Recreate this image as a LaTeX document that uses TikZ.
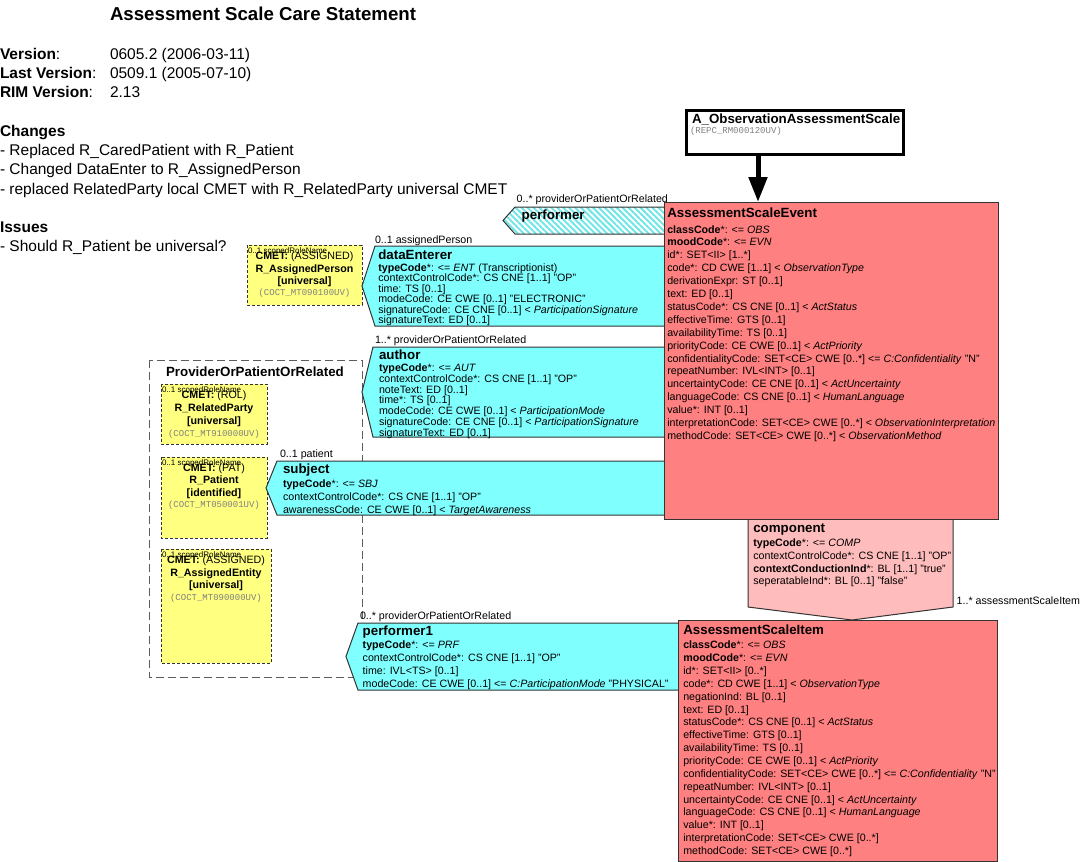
\documentclass[tikz,border=0pt]{standalone}
\usepackage{fontspec}
\setmainfont{Liberation Sans}
\setmonofont{Liberation Mono}
\usetikzlibrary{arrows.meta,patterns.meta}
\definecolor{evt}{HTML}{FF8080}
\definecolor{cyn}{HTML}{80FFFF}
\definecolor{hatch}{HTML}{70E6E6}
\definecolor{ylw}{HTML}{FFFF80}
\definecolor{cmp}{HTML}{FFBCBC}
\definecolor{brd}{HTML}{333333}
\begin{document}
\begin{tikzpicture}[x=1pt,y=-1pt,
  every node/.style={inner sep=0pt, outer sep=0pt},
  hd/.style={anchor=base west, font=\fontsize{15.5}{18}\selectfont},
  bigttl/.style={anchor=base west, font=\fontsize{18.67}{22}\selectfont\bfseries},
  ttl/.style={anchor=base west, font=\fontsize{13.33}{16}\selectfont\bfseries},
  ln/.style={anchor=base west, font=\fontsize{10.67}{12}\selectfont},
  cmettxt/.style={anchor=base, font=\fontsize{10.67}{12}\selectfont},
  monotxt/.style={anchor=base, font=\fontsize{9}{10}\ttfamily, text=gray},
  srn/.style={anchor=base west, font=\fontsize{8}{9}\selectfont},
  clsbox/.style={draw=brd, fill=evt, line width=1pt, anchor=north west},
  part/.style={draw=brd, fill=cyn, line width=1pt},
  cmetbox/.style={draw=brd, fill=ylw, dash pattern=on 3pt off 2pt, line width=1pt},
  grp/.style={draw=brd!80, dash pattern=on 8pt off 4pt, line width=1pt},
]
\useasboundingbox (0,0) rectangle (1080,862);
\fill[white] (0,0) rectangle (1080,862);

% header
\node[bigttl] (title) at (110,20) {Assessment Scale Care Statement};
\node[hd] (vk) at (0,59.3) {\textbf{Version}:};
\node[hd] (vv) at (110,59.3) {0605.2 (2006-03-11)};
\node[hd] (lvk) at (0,78.3) {\textbf{Last Version}:};
\node[hd] (lvv) at (110,78.3) {0509.1 (2005-07-10)};
\node[hd] (rk) at (0,97.3) {\textbf{RIM Version}:};
\node[hd] (rv) at (110,97.3) {2.13};
\node[hd] (chg) at (0,136) {\textbf{Changes}};
\node[hd] (c1) at (0,155.5) {- Replaced R\_CaredPatient with R\_Patient};
\node[hd] (c2) at (0,174.8) {- Changed DataEnter to R\_AssignedPerson};
\node[hd] (c3) at (0,194.1) {- replaced RelatedParty local CMET with R\_RelatedParty universal CMET};
\node[hd] (iss) at (0,232.3) {\textbf{Issues}};
\node[hd] (i1) at (0,251) {- Should R\_Patient be universal?};

% group
\draw[grp] (149,360) rectangle (362,677);
\node[ttl, anchor=base] (grpt) at (255,376.5) {ProviderOrPatientOrRelated};

% CMET boxes
\draw[cmetbox] (247,245) rectangle (362,305);
\node[srn] (ap0) at (248,253) {0..1 scopedRoleName};
\node[cmettxt] (ap1) at (304.5,259.5) {\textbf{CMET:} (ASSIGNED)};
\node[cmettxt] (ap2) at (304.5,272.8) {\textbf{R\_AssignedPerson}};
\node[cmettxt] (ap3) at (304.5,284.8) {\textbf{[universal]}};
\node[monotxt] (ap4) at (304.5,295.3) {(COCT\_MT090100UV)};

\draw[cmetbox] (161,384) rectangle (267,444);
\node[srn] (rp0) at (162,392) {0..1 scopedRoleName};
\node[cmettxt] (rp1) at (214,398.8) {\textbf{CMET:} (ROL)};
\node[cmettxt] (rp2) at (214,411.5) {\textbf{R\_RelatedParty}};
\node[cmettxt] (rp3) at (214,424.5) {\textbf{[universal]}};
\node[monotxt] (rp4) at (214,436) {(COCT\_MT910000UV)};

\draw[cmetbox] (161,457) rectangle (267,538);
\node[srn] (pt0) at (162,465) {0..1 scopedRoleName};
\node[cmettxt] (pt1) at (214,471.5) {\textbf{CMET:} (PAT)};
\node[cmettxt] (pt2) at (214,483.8) {\textbf{R\_Patient}};
\node[cmettxt] (pt3) at (214,496.5) {\textbf{[identified]}};
\node[monotxt] (pt4) at (214,507.6) {(COCT\_MT050001UV)};

\draw[cmetbox] (161,549) rectangle (271,663);
\node[srn] (ae0) at (162,557) {0..1 scopedRoleName};
\node[cmettxt] (ae1) at (216,563.8) {\textbf{CMET:} (ASSIGNED)};
\node[cmettxt] (ae2) at (216,576.5) {\textbf{R\_AssignedEntity}};
\node[cmettxt] (ae3) at (216,588.8) {\textbf{[universal]}};
\node[monotxt] (ae4) at (216,600.3) {(COCT\_MT090000UV)};

% participations
\draw[brd, line width=1pt, preaction={fill=white},
  pattern={Lines[angle=-45,distance=4.2pt,line width=2pt]}, pattern color=hatch]
  (664,207) -- (515,207) -- (503,220.5) -- (515,234) -- (664,234);
\node[ln] (pfl) at (516.7,202.1) {0..* providerOrPatientOrRelated};
\node[ttl] (pft) at (521.7,219.1) {performer};

\draw[part] (664,246) -- (375,246) -- (362,286) -- (375,326) -- (664,326);
\node[ln] (del) at (375,243.1) {0..1 assignedPerson};
\node[ttl] (det) at (378.3,259) {dataEnterer};
\foreach \lne [count=\i from 0] in {
 {\textbf{typeCode}*: <= \textit{ENT} (Transcriptionist)},
 {contextControlCode*: CS CNE [1..1] "OP"},
 {time: TS [0..1]},
 {modeCode: CE CWE [0..1] "ELECTRONIC"},
 {signatureCode: CE CNE [0..1] < \textit{ParticipationSignature}},
 {signatureText: ED [0..1]}}
 {\node[ln] (de\i) at (378.3, 271.1+\i*10.55) {\lne};}

\draw[part] (664,347) -- (373,347) -- (362,392) -- (373,437) -- (664,437);
\node[ln] (aul) at (375,343.8) {1..* providerOrPatientOrRelated};
\node[ttl] (aut) at (379,359.8) {author};
\foreach \lne [count=\i from 0] in {
 {\textbf{typeCode}*: <= \textit{AUT}},
 {contextControlCode*: CS CNE [1..1] "OP"},
 {noteText: ED [0..1]},
 {time*: TS [0..1]},
 {modeCode: CE CWE [0..1] < \textit{ParticipationMode}},
 {signatureCode: CE CNE [0..1] < \textit{ParticipationSignature}},
 {signatureText: ED [0..1]}}
 {\node[ln] (au\i) at (379, 371.5+\i*10.77) {\lne};}

\draw[part] (664,461) -- (277,461) -- (266,488) -- (277,515) -- (664,515);
\node[ln] (sbl) at (280,457.8) {0..1 patient};
\node[ttl] (sbt) at (283,473.8) {subject};
\foreach \lne [count=\i from 0] in {
 {\textbf{typeCode}*: <= \textit{SBJ}},
 {contextControlCode*: CS CNE [1..1] "OP"},
 {awarenessCode: CE CWE [0..1] < \textit{TargetAwareness}}}
 {\node[ln] (sb\i) at (283, 487.8+\i*12.7) {\lne};}

\draw[part] (678,623) -- (358,623) -- (346,656.5) -- (358,690) -- (678,690);
\node[ln] (p1l) at (360,619.8) {0..* providerOrPatientOrRelated};
\node[ttl] (p1t) at (362.7,635.5) {performer1};
\foreach \lne [count=\i from 0] in {
 {\textbf{typeCode}*: <= \textit{PRF}},
 {contextControlCode*: CS CNE [1..1] "OP"},
 {time: IVL<TS> [0..1]},
 {modeCode: CE CWE [0..1] <= \textit{C:ParticipationMode} "PHYSICAL"}}
 {\node[ln] (p1\i) at (362.7, 648.8+\i*13) {\lne};}

% component
\draw[draw=brd, fill=cmp, line width=1pt] (748,510) -- (748,607) -- (852,620) -- (953,607) -- (953,510);
\node[ttl] (cpt) at (753.3,532.1) {component};
\foreach \lne [count=\i from 0] in {
 {\textbf{typeCode}*: <= \textit{COMP}},
 {contextControlCode*: CS CNE [1..1] "OP"},
 {\textbf{contextConductionInd}*: BL [1..1] "true"},
 {seperatableInd*: BL [0..1] "false"}}
 {\node[ln] (cp\i) at (753.3, 546.5+\i*12.8) {\lne};}
\node[ln] (cpl) at (956.7,604.8) {1..* assessmentScaleItem};

% event
\node[clsbox, minimum width=334pt, minimum height=317pt] (evt) at (664,202) {};
\node[ttl] (evtt) at (667.3,217.6) {AssessmentScaleEvent};
\foreach \lne [count=\i from 0] in {
 {\textbf{classCode}*: <= \textit{OBS}},
 {\textbf{moodCode}*: <= \textit{EVN}},
 {id*: SET<II> [1..*]},
 {code*: CD CWE [1..1] < \textit{ObservationType}},
 {derivationExpr: ST [0..1]},
 {text: ED [0..1]},
 {statusCode*: CS CNE [0..1] < \textit{ActStatus}},
 {effectiveTime: GTS [0..1]},
 {availabilityTime: TS [0..1]},
 {priorityCode: CE CWE [0..1] < \textit{ActPriority}},
 {confidentialityCode: SET<CE> CWE [0..*] <= \textit{C:Confidentiality} "N"},
 {repeatNumber: IVL<INT> [0..1]},
 {uncertaintyCode: CE CNE [0..1] < \textit{ActUncertainty}},
 {languageCode: CS CNE [0..1] < \textit{HumanLanguage}},
 {value*: INT [0..1]},
 {interpretationCode: SET<CE> CWE [0..*] < \textit{ObservationInterpretation}},
 {methodCode: SET<CE> CWE [0..*] < \textit{ObservationMethod}}}
 {\node[ln] (ev\i) at (667.3, 233+\i*12.9) {\lne};}

% item
\node[clsbox, minimum width=319pt, minimum height=241pt] (itm) at (678,620) {};
\node[ttl] (itmt) at (683.3,634.8) {AssessmentScaleItem};
\foreach \lne [count=\i from 0] in {
 {\textbf{classCode}*: <= \textit{OBS}},
 {\textbf{moodCode}*: <= \textit{EVN}},
 {id*: SET<II> [0..*]},
 {code*: CD CWE [1..1] < \textit{ObservationType}},
 {negationInd: BL [0..1]},
 {text: ED [0..1]},
 {statusCode*: CS CNE [0..1] < \textit{ActStatus}},
 {effectiveTime: GTS [0..1]},
 {availabilityTime: TS [0..1]},
 {priorityCode: CE CWE [0..1] < \textit{ActPriority}},
 {confidentialityCode: SET<CE> CWE [0..*] <= \textit{C:Confidentiality} "N"},
 {repeatNumber: IVL<INT> [0..1]},
 {uncertaintyCode: CE CNE [0..1] < \textit{ActUncertainty}},
 {languageCode: CS CNE [0..1] < \textit{HumanLanguage}},
 {value*: INT [0..1]},
 {interpretationCode: SET<CE> CWE [0..*]},
 {methodCode: SET<CE> CWE [0..*]}}
 {\node[ln] (it\i) at (683.3, 648.8+\i*12.86) {\lne};}

% entry point
\node[draw=black, fill=white, line width=3pt, anchor=north west,
  minimum width=217pt, minimum height=44pt] (aobs) at (686,110) {};
\node[ttl] (aobst) at (692,123.2) {A\_ObservationAssessmentScale};
\node[monotxt, anchor=base west] (aobss) at (690,133.6) {(REPC\_RM000120UV)};
\draw[line width=5pt, -{Triangle[width=18pt,length=25pt]}]
  ([xshift=-36.5pt]aobs.south) -- ([xshift=-36.5pt]aobs.south |- evt.north);
\end{tikzpicture}
\end{document}
